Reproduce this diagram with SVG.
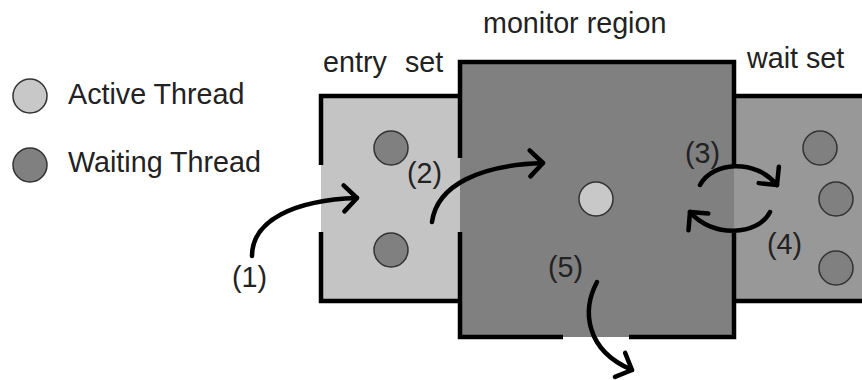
<svg xmlns="http://www.w3.org/2000/svg" width="862" height="380" viewBox="0 0 862 380">
<style>
text{font-family:"Liberation Sans",Arial,sans-serif;font-size:28.7px;fill:#222}
.border{fill:none;stroke:#000;stroke-width:4.5;stroke-linejoin:miter;stroke-linecap:butt}
.active{fill:#c8c8c8;stroke:#333;stroke-width:1.5}
.waiting{fill:#808080;stroke:#333;stroke-width:1.5}
.arrow{fill:none;stroke:#000;stroke-width:4.5;stroke-linecap:round;marker-end:url(#ah)}
</style>
<defs>
<marker id="ah" markerUnits="userSpaceOnUse" viewBox="-20 -20 40 40" markerWidth="40" markerHeight="40" refX="0" refY="0" orient="auto">
<path d="M-13,-13 L0,0 L-13,13" fill="none" stroke="#000" stroke-width="4.5" stroke-linecap="round" stroke-linejoin="round"/>
</marker>
</defs>
<rect width="862" height="380" fill="#fff"/>
<g id="legend">
<circle class="active" cx="30" cy="96" r="17"/>
<text x="68" y="104">Active Thread</text>
<circle class="waiting" cx="30" cy="165" r="17"/>
<text x="68" y="172">Waiting Thread</text>
</g>
<g id="entry-set">
<rect x="321" y="96" width="139" height="205" fill="#c4c4c4"/>
<polyline class="border" points="321,165 321,96 460,96"/>
<polyline class="border" points="321,232 321,301 460,301"/>
<text x="323" y="72">entry<tspan x="405">set</tspan></text>
<circle class="waiting" cx="391" cy="148" r="17"/>
<circle class="waiting" cx="391" cy="250" r="17"/>
</g>
<g id="wait-set">
<rect x="734" y="96" width="128" height="205" fill="#989898"/>
<polyline class="border" points="734,96 862,96"/>
<polyline class="border" points="734,301 862,301"/>
<text x="747" y="68">wait set</text>
<circle class="waiting" cx="820" cy="148" r="17"/>
<circle class="waiting" cx="836" cy="199" r="17"/>
<circle class="waiting" cx="836" cy="268" r="17"/>
</g>
<g id="monitor-region">
<rect x="460" y="62" width="274" height="275" fill="#808080"/>
<polyline class="border" points="460,158 460,62 734,62 734,165"/>
<polyline class="border" points="460,232 460,337 563,337"/>
<polyline class="border" points="629,337 734,337 734,233"/>
<text x="483" y="33">monitor region</text>
<circle class="active" cx="596" cy="199" r="17"/>
</g>
<g id="connectors">
<path class="arrow" d="M252,256 C252,220 295,200 357,198"/>
<path class="arrow" d="M432,222 C437,185 480,165 543,163"/>
<path class="arrow" d="M700,185 C712,162 755,158 777,185"/>
<path class="arrow" d="M770,212 C758,236 712,238 690,212"/>
<path class="arrow" d="M597,282 C582,310 585,350 632,370"/>
<text x="232" y="287">(1)</text>
<text x="407" y="183">(2)</text>
<text x="685" y="163">(3)</text>
<text x="767" y="254">(4)</text>
<text x="548" y="277">(5)</text>
</g>
</svg>
